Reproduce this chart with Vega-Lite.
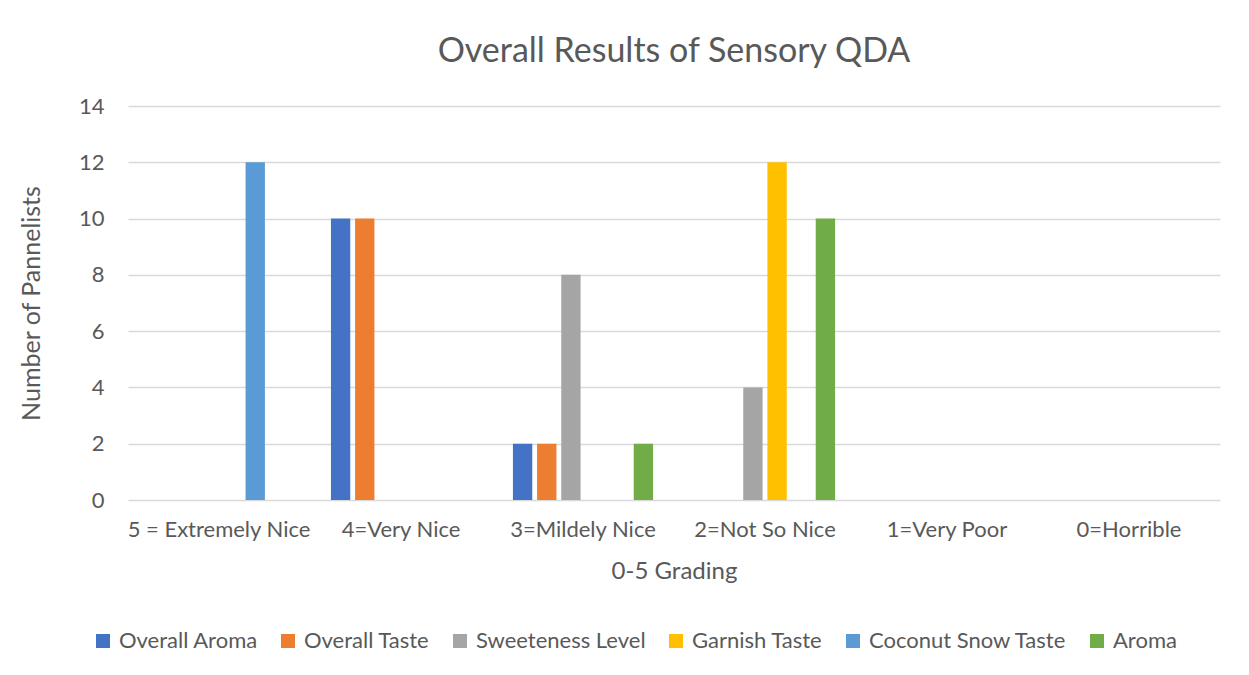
{
  "$schema": "https://vega.github.io/schema/vega-lite/v6.json",
  "autosize": {"type": "none"},
  "width": 1092,
  "height": 394,
  "padding": {"left": 128, "top": 106, "right": 29, "bottom": 175},
  "background": "white",
  "title": {
    "text": "Overall Results of Sensory QDA",
    "fontSize": 34,
    "font": "Lato",
    "fontWeight": "normal",
    "color": "#595959",
    "anchor": "middle",
    "offset": 26
  },
  "data": {
    "values": [
      {"grade": "5 = Extremely Nice", "series": "Overall Aroma", "count": 0},
      {"grade": "5 = Extremely Nice", "series": "Overall Taste", "count": 0},
      {"grade": "5 = Extremely Nice", "series": "Sweeteness Level", "count": 0},
      {"grade": "5 = Extremely Nice", "series": "Garnish Taste", "count": 0},
      {"grade": "5 = Extremely Nice", "series": "Coconut Snow Taste", "count": 12},
      {"grade": "5 = Extremely Nice", "series": "Aroma", "count": 0},
      {"grade": "4=Very Nice", "series": "Overall Aroma", "count": 10},
      {"grade": "4=Very Nice", "series": "Overall Taste", "count": 10},
      {"grade": "4=Very Nice", "series": "Sweeteness Level", "count": 0},
      {"grade": "4=Very Nice", "series": "Garnish Taste", "count": 0},
      {"grade": "4=Very Nice", "series": "Coconut Snow Taste", "count": 0},
      {"grade": "4=Very Nice", "series": "Aroma", "count": 0},
      {"grade": "3=Mildely Nice", "series": "Overall Aroma", "count": 2},
      {"grade": "3=Mildely Nice", "series": "Overall Taste", "count": 2},
      {"grade": "3=Mildely Nice", "series": "Sweeteness Level", "count": 8},
      {"grade": "3=Mildely Nice", "series": "Garnish Taste", "count": 0},
      {"grade": "3=Mildely Nice", "series": "Coconut Snow Taste", "count": 0},
      {"grade": "3=Mildely Nice", "series": "Aroma", "count": 2},
      {"grade": "2=Not So Nice", "series": "Overall Aroma", "count": 0},
      {"grade": "2=Not So Nice", "series": "Overall Taste", "count": 0},
      {"grade": "2=Not So Nice", "series": "Sweeteness Level", "count": 4},
      {"grade": "2=Not So Nice", "series": "Garnish Taste", "count": 12},
      {"grade": "2=Not So Nice", "series": "Coconut Snow Taste", "count": 0},
      {"grade": "2=Not So Nice", "series": "Aroma", "count": 10},
      {"grade": "1=Very Poor", "series": "Overall Aroma", "count": 0},
      {"grade": "1=Very Poor", "series": "Overall Taste", "count": 0},
      {"grade": "1=Very Poor", "series": "Sweeteness Level", "count": 0},
      {"grade": "1=Very Poor", "series": "Garnish Taste", "count": 0},
      {"grade": "1=Very Poor", "series": "Coconut Snow Taste", "count": 0},
      {"grade": "1=Very Poor", "series": "Aroma", "count": 0},
      {"grade": "0=Horrible", "series": "Overall Aroma", "count": 0},
      {"grade": "0=Horrible", "series": "Overall Taste", "count": 0},
      {"grade": "0=Horrible", "series": "Sweeteness Level", "count": 0},
      {"grade": "0=Horrible", "series": "Garnish Taste", "count": 0},
      {"grade": "0=Horrible", "series": "Coconut Snow Taste", "count": 0},
      {"grade": "0=Horrible", "series": "Aroma", "count": 0}
    ]
  },
  "mark": {"type": "bar"},
  "encoding": {
    "x": {
      "field": "grade",
      "type": "nominal",
      "sort": null,
      "scale": {"paddingInner": 0.23, "paddingOuter": 0.115},
      "axis": {
        "title": "0-5 Grading",
        "labelAngle": 0,
        "domain": false,
        "ticks": false,
        "labelPadding": 19,
        "titlePadding": 19,
        "labelLimit": 300,
        "titleFontSize": 24
      }
    },
    "xOffset": {
      "field": "series",
      "type": "nominal",
      "sort": ["Overall Aroma", "Overall Taste", "Sweeteness Level", "Garnish Taste", "Coconut Snow Taste", "Aroma"],
      "scale": {"paddingInner": 0.2, "paddingOuter": 0}
    },
    "y": {
      "field": "count",
      "type": "quantitative",
      "scale": {"domain": [0, 14], "nice": false},
      "axis": {
        "title": "Number of Pannelists",
        "values": [0, 2, 4, 6, 8, 10, 12, 14],
        "domain": false,
        "ticks": false,
        "labelPadding": 24,
        "titlePadding": 34,
        "titleFontSize": 25
      }
    },
    "color": {
      "field": "series",
      "type": "nominal",
      "sort": ["Overall Aroma", "Overall Taste", "Sweeteness Level", "Garnish Taste", "Coconut Snow Taste", "Aroma"],
      "scale": {
        "domain": ["Overall Aroma", "Overall Taste", "Sweeteness Level", "Garnish Taste", "Coconut Snow Taste", "Aroma"],
        "range": ["#4472C4", "#ED7D31", "#A5A5A5", "#FFC000", "#5B9BD5", "#70AD47"]
      },
      "legend": {
        "title": null,
        "orient": "none",
        "legendX": -36,
        "legendY": 524,
        "direction": "horizontal",
        "columns": 6,
        "symbolType": "square",
        "symbolSize": 196,
        "symbolStrokeWidth": 0,
        "labelFontSize": 22,
        "labelFont": "Lato",
        "labelColor": "#595959",
        "columnPadding": 19,
        "labelOffset": 5,
        "labelLimit": 300
      }
    }
  },
  "config": {
    "view": {"stroke": null},
    "axis": {
      "labelFont": "Lato",
      "titleFont": "Lato",
      "labelFontSize": 22,
      "labelColor": "#595959",
      "titleColor": "#595959",
      "titleFontWeight": "normal",
      "gridColor": "#D9D9D9",
      "gridWidth": 1.3
    },
    "axisX": {"grid": false}
  }
}
